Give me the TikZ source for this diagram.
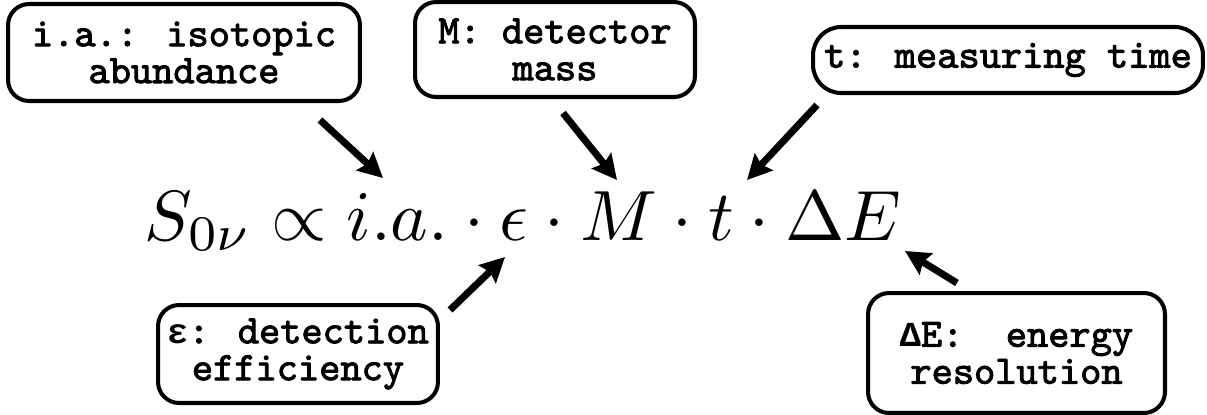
\documentclass[tikz,border=0pt]{standalone}
\usepackage{amsmath}
\usepackage{fontspec}
\newfontfamily\greekmono{Liberation Mono}
\newfontfamily\boxmono{lmmono10-regular.otf}[FakeBold=2.2]
\usepackage{tikz}
\usetikzlibrary{arrows.meta,positioning}
\tikzset{
    label box/.style={draw, line width=2.3pt, rounded corners=12pt, align=center,
        inner sep=2pt, font=\boxmono\bfseries\fontsize{23}{21}\selectfont},
    pointer/.style={draw, line width=4pt, -{Stealth[length=14pt, width=14pt, inset=2pt]}}
}
\newcommand{\gr}[1]{{\greekmono\bfseries\fontsize{20}{21}\selectfont #1}}
\begin{document}
\begin{tikzpicture}[x=0.02cm, y=-0.02cm]
    \useasboundingbox (0,0) rectangle (1207,414);
    % Nodes
    \node[label box, minimum width=7.04cm, minimum height=1.94cm] (ia) at (184,52.5) {i.a.: isotopic\\abundance};
    \node[label box, minimum width=5.6cm, minimum height=1.9cm] (mass) at (555,49.5) {M: detector\\mass};
    \node[label box, minimum width=7.8cm, minimum height=1.32cm, rounded corners=16pt] (time) at (1008,60) {t: measuring time};
    \node[label box, minimum width=5.6cm, minimum height=1.96cm] (eff) at (298,354) {\gr{ε}: detection\\efficiency};
    \node[label box, minimum width=5.94cm, minimum height=2.4cm] (res) at (1016.5,353) {\gr{Δ}E:\ \ energy\\resolution};
    \node[anchor=base west, inner sep=0pt, scale=4.05] (formula) at (143,240) {$S_{0\nu}\propto i.a.\cdot\epsilon\cdot M\cdot t\cdot\Delta E$};

    % arrow ends
    \coordinate (ia-from) at (320,120);
    \coordinate (ia-to) at (383,178);
    \coordinate (mass-from) at (563,113);
    \coordinate (mass-to) at (617,180);
    \coordinate (time-from) at (817,105);
    \coordinate (time-to) at (747,180);
    \coordinate (eff-from) at (450,310);
    \coordinate (eff-to) at (505,257);
    \coordinate (res-from) at (957,283);
    \coordinate (res-to) at (905,251);

    % edges
    \draw[pointer] (ia-from) -- (ia-to);
    \draw[pointer] (mass-from) -- (mass-to);
    \draw[pointer] (time-from) -- (time-to);
    \draw[pointer] (eff-from) -- (eff-to);
    \draw[pointer] (res-from) -- (res-to);
\end{tikzpicture}
\end{document}
